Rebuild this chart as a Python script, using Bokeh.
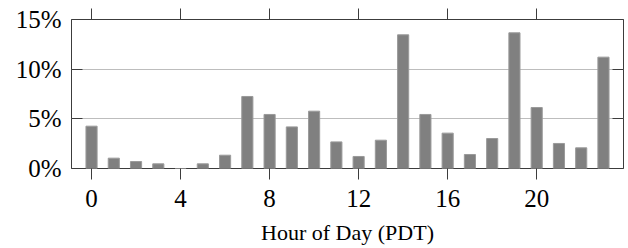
from bokeh.plotting import figure
from bokeh.models import LinearAxis, FixedTicker, PrintfTickFormatter
from bokeh.embed import file_html
from bokeh.resources import INLINE

hours = list(range(24))
share_pct = [4.26, 1.04, 0.70, 0.47, 0.0, 0.47, 1.34, 7.25, 5.44, 4.19, 5.77, 2.68,
             1.21, 2.85, 13.46, 5.44, 3.56, 1.41, 3.02, 13.66, 6.14, 2.52, 2.08, 11.21]
x_ticks = [0, 4, 8, 12, 16, 20]
y_ticks = [0, 5, 10, 15]
x_label = "Hour of Day (PDT)"

FONT = "Liberation Serif"
DARK = "#3c3c3c"

p = figure(width=628, height=248, x_range=(-0.9, 23.9), y_range=(0, 15),
           output_backend="svg", toolbar_location=None,
           min_border_left=71, min_border_right=5, min_border_top=19, min_border_bottom=80,
           x_axis_location=None, y_axis_location=None)
p.outline_line_color = DARK
p.outline_line_width = 1
p.background_fill_color = "white"
p.border_fill_color = "white"

p.vbar(x=hours, top=share_pct, width=0.5, fill_color="#808080", line_color="#9a9a9a", line_width=1)

def style(ax, labels=True):
    ax.axis_line_color = None
    ax.minor_tick_line_color = None
    ax.major_tick_line_color = DARK
    ax.major_tick_line_width = 1
    ax.major_label_text_font = FONT
    ax.major_label_text_color = "black"
    if not labels:
        ax.major_label_text_font_size = "0px"
        ax.major_label_text_alpha = 0

xb = LinearAxis(ticker=FixedTicker(ticks=x_ticks), axis_label=x_label)
style(xb)
xb.major_tick_out = 11
xb.major_tick_in = 0
xb.major_label_text_font_size = "25px"
xb.major_label_standoff = 10
xb.axis_label_text_font = FONT
xb.axis_label_text_font_size = "22px"
xb.axis_label_text_font_style = "normal"
xb.axis_label_text_color = "black"
xb.axis_label_standoff = 10
p.add_layout(xb, "below")

xt = LinearAxis(ticker=FixedTicker(ticks=x_ticks))
style(xt, labels=False)
xt.major_tick_out = 11
xt.major_tick_in = 0
p.add_layout(xt, "above")

yl = LinearAxis(ticker=FixedTicker(ticks=y_ticks), formatter=PrintfTickFormatter(format="%d%%"))
style(yl)
yl.major_tick_out = 0
yl.major_tick_in = 11
yl.major_label_text_font_size = "25px"
yl.major_label_standoff = 10
p.add_layout(yl, "left")

yr = LinearAxis(ticker=FixedTicker(ticks=y_ticks))
style(yr, labels=False)
yr.major_tick_out = 0
yr.major_tick_in = 11
p.add_layout(yr, "right")

p.xgrid.visible = False
p.ygrid.ticker = FixedTicker(ticks=[5, 10])
p.ygrid.grid_line_color = "#bdbdbd"
p.ygrid.grid_line_width = 1

open("out.html", "w").write(file_html(p, INLINE))
